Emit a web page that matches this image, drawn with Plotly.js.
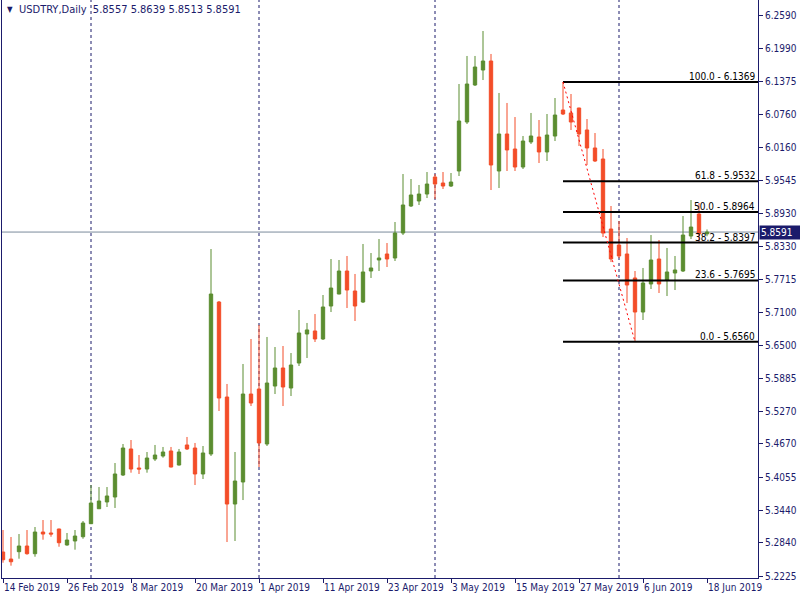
<!DOCTYPE html>
<html>
<head>
<meta charset="utf-8">
<script src="https://cdn.plot.ly/plotly-3.0.1.min.js"></script>
<style>
html,body{margin:0;padding:0;background:#fff;}
#chart{width:800px;height:600px;}
</style>
</head>
<body>
<div id="chart"></div>
<script>
// ---- data ----
const dates = [
"14 Feb 2019","15 Feb 2019","18 Feb 2019","19 Feb 2019","20 Feb 2019","21 Feb 2019","22 Feb 2019","25 Feb 2019","26 Feb 2019","27 Feb 2019","28 Feb 2019",
"1 Mar 2019","4 Mar 2019","5 Mar 2019","6 Mar 2019","7 Mar 2019","8 Mar 2019","11 Mar 2019","12 Mar 2019","13 Mar 2019","14 Mar 2019","15 Mar 2019","18 Mar 2019","19 Mar 2019","20 Mar 2019","21 Mar 2019","22 Mar 2019","25 Mar 2019","26 Mar 2019","27 Mar 2019","28 Mar 2019","29 Mar 2019",
"1 Apr 2019","2 Apr 2019","3 Apr 2019","4 Apr 2019","5 Apr 2019","8 Apr 2019","9 Apr 2019","10 Apr 2019","11 Apr 2019","12 Apr 2019","15 Apr 2019","16 Apr 2019","17 Apr 2019","18 Apr 2019","19 Apr 2019","22 Apr 2019","23 Apr 2019","24 Apr 2019","25 Apr 2019","26 Apr 2019","29 Apr 2019","30 Apr 2019",
"1 May 2019","2 May 2019","3 May 2019","6 May 2019","7 May 2019","8 May 2019","9 May 2019","10 May 2019","13 May 2019","14 May 2019","15 May 2019","16 May 2019","17 May 2019","20 May 2019","21 May 2019","22 May 2019","23 May 2019","24 May 2019","27 May 2019","28 May 2019","29 May 2019","30 May 2019","31 May 2019",
"3 Jun 2019","4 Jun 2019","5 Jun 2019","6 Jun 2019","7 Jun 2019","10 Jun 2019","11 Jun 2019","12 Jun 2019","13 Jun 2019","14 Jun 2019","17 Jun 2019","18 Jun 2019"
];
const opens = [
5.2669,5.2539,5.2675,5.2780,5.2638,5.3039,5.3021,5.3095,5.2799,5.2873,5.2952,
5.3193,5.3470,5.3595,5.3687,5.4094,5.4576,5.4224,5.4205,5.4390,5.4446,5.4539,5.4279,5.4650,5.4594,5.4113,5.4483,5.7296,5.5538,5.3557,5.3965,5.5593,
5.5686,5.4668,5.5741,5.6075,5.5704,5.6167,5.6704,5.6760,5.6612,5.7222,5.7444,5.7870,5.7500,5.7296,5.7870,5.8074,5.8185,5.8111,5.8573,5.9073,5.9166,5.9295,
5.9610,5.9499,5.9443,5.9721,6.0628,6.1313,6.1590,6.1757,5.9721,6.0406,6.0128,5.9795,6.0258,6.0350,6.0073,6.0368,6.0850,6.0795,6.0887,6.0480,6.0147,5.9943,5.8647,
5.8351,5.8185,5.7741,5.7111,5.7630,5.8092,5.7704,5.7833,5.7870,5.8518,5.8925,5.8557
];
const highs = [
5.3076,5.2947,5.3002,5.3076,5.3132,5.3261,5.3261,5.3100,5.3021,5.3076,5.3243,
5.3909,5.3872,5.3872,5.4316,5.4668,5.4742,5.4464,5.4520,5.4650,5.4613,5.4613,5.4576,5.4798,5.4687,5.4631,5.8277,5.7315,5.5779,5.4520,5.6149,5.6611,
5.6871,5.6649,5.6463,5.6482,5.6352,5.7148,5.6908,5.7074,5.7426,5.8092,5.8074,5.8148,5.7815,5.8370,5.8203,5.8462,5.8388,5.8777,5.9665,5.9573,5.9462,5.9702,
5.9665,5.9702,5.9684,6.1331,6.1850,6.1850,6.2312,6.1887,6.1165,6.0980,6.0720,6.0369,6.0795,6.0665,6.0776,6.1072,6.1369,6.1146,6.0890,6.0683,6.0424,6.0128,5.9073,
5.8795,5.8481,5.7870,5.7926,5.8536,5.8444,5.8296,5.8148,5.8888,5.9184,5.9129,5.8639
];
const lows = [
5.2471,5.2416,5.2545,5.2619,5.2582,5.2897,5.2952,5.2767,5.2786,5.2712,5.2915,
5.3187,5.3465,5.3502,5.3484,5.4076,5.4137,5.4113,5.4137,5.4353,5.4415,5.4235,5.4270,5.4557,5.3909,5.4020,5.4446,5.5279,5.2854,5.2873,5.3631,5.5371,
5.4242,5.4631,5.5593,5.5371,5.5556,5.6112,5.6260,5.6556,5.6593,5.7111,5.7440,5.7185,5.6945,5.7278,5.7741,5.7870,5.7944,5.8055,5.8536,5.9055,5.9092,5.9221,
5.9203,5.9388,5.9425,5.9628,6.0591,6.1294,6.1405,5.9369,5.9406,5.9721,5.9721,5.9758,6.0221,5.9869,5.9906,6.0276,6.0757,6.0480,6.0184,5.9832,5.9888,5.8499,5.8036,
5.8111,5.7278,5.6560,5.6963,5.7537,5.7463,5.7407,5.7518,5.7852,5.8462,5.8388,5.8513
];
const closes = [
5.2526,5.2489,5.2780,5.2638,5.3039,5.3002,5.3002,5.2841,5.2891,5.2965,5.3206,
5.3576,5.3613,5.3706,5.4113,5.4594,5.4205,5.4205,5.4409,5.4464,5.4520,5.4242,5.4520,5.4576,5.4113,5.4502,5.7444,5.5519,5.3557,5.3983,5.5593,5.5427,
5.4687,5.5797,5.6075,5.5723,5.6130,5.6723,5.6779,5.6612,5.7204,5.7555,5.7870,5.7518,5.7222,5.7852,5.7926,5.8111,5.8092,5.8573,5.9092,5.9277,5.9295,5.9480,
5.9480,5.9443,5.9517,6.0646,6.1331,6.1646,6.1757,5.9832,6.0406,6.0110,5.9795,6.0276,6.0369,6.0073,6.0387,6.0757,6.0776,6.0628,6.0406,6.0147,5.9906,5.8573,5.8092,
5.8148,5.7611,5.7111,5.7648,5.8074,5.7630,5.7852,5.7889,5.8536,5.8684,5.8557,5.8591
];
const xTickDates = ["14 Feb 2019","26 Feb 2019","8 Mar 2019","20 Mar 2019","1 Apr 2019","11 Apr 2019","23 Apr 2019","3 May 2019","15 May 2019","27 May 2019","6 Jun 2019","18 Jun 2019"];
const yTickLabels = ["6.2590","6.1990","6.1375","6.0760","6.0160","5.9545","5.8930","5.8330","5.7715","5.7100","5.6500","5.5885","5.5270","5.4670","5.4055","5.3440","5.2840","5.2225"];
const separatorDates = ["1 Mar 2019","1 Apr 2019","1 May 2019","3 Jun 2019"];
const fibLevels = [100.0, 61.8, 50.0, 38.2, 23.6, 0.0];
const fibPrices = ["6.1369","5.9532","5.8964","5.8397","5.7695","5.6560"];
const fibStartDate = "23 May 2019";
const fibEndDate = "5 Jun 2019";
const symbolTitle = "USDTRY,Daily";

// ---- styling ----
const NAVY = "#1b1b6b";
const GREEN = "#5b8d30";
const RED = "#f34d28";
const FONT = "DejaVu Sans Condensed, DejaVu Sans, sans-serif";
const XMIN = -0.125, XMAX = 94.375;

const n = closes.length;
const lastO = opens[n-1], lastH = highs[n-1], lastL = lows[n-1], lastC = closes[n-1];

const trace = {
  type: "candlestick",
  x: dates, open: opens, high: highs, low: lows, close: closes,
  increasing: {line: {color: GREEN, width: 1}, fillcolor: GREEN},
  decreasing: {line: {color: RED, width: 1}, fillcolor: RED},
  whiskerwidth: 0,
  hoverinfo: "skip",
  showlegend: false
};

const shapes = [];
separatorDates.forEach(d => shapes.push({
  type: "line", xref: "x", yref: "paper", x0: d, x1: d, y0: 0, y1: 1,
  line: {color: NAVY, width: 1, dash: "3px,3px"}, layer: "below"
}));
shapes.push({
  type: "line", xref: "paper", yref: "y", x0: 0, x1: 1, y0: lastC, y1: lastC,
  line: {color: "#7a8a9c", width: 1}, layer: "below"
});
fibPrices.forEach(p => shapes.push({
  type: "line", xref: "x", yref: "y", x0: fibStartDate, x1: XMAX, y0: +p, y1: +p,
  line: {color: "#000000", width: 2}, layer: "above"
}));
shapes.push({
  type: "line", xref: "x", yref: "y",
  x0: fibStartDate, y0: +fibPrices[0], x1: fibEndDate, y1: +fibPrices[fibPrices.length-1],
  line: {color: "#ff0000", width: 1, dash: "2px,3px"}, layer: "above"
});

const annotations = [];
fibLevels.forEach((lv, i) => annotations.push({
  xref: "paper", yref: "y", x: 1, y: +fibPrices[i], xanchor: "right", yanchor: "bottom",
  xshift: -1, yshift: -2,
  text: lv.toFixed(1) + " - " + fibPrices[i], showarrow: false,
  font: {family: FONT, size: 10, color: "#000000"}
}));
annotations.push({
  xref: "paper", yref: "y", x: 1, y: lastC, xanchor: "left", yanchor: "middle", xshift: 1,
  text: lastC.toFixed(4), showarrow: false, bgcolor: NAVY, borderpad: 1,
  font: {family: FONT, size: 10, color: "#ffffff"}, width: 38, align: "left"
});
annotations.push({
  xref: "paper", yref: "paper", x: 0, y: 1, xanchor: "left", yanchor: "top", xshift: 3, yshift: -3,
  text: "▼", showarrow: false, font: {family: FONT, size: 8, color: NAVY}
});
annotations.push({
  xref: "paper", yref: "paper", x: 0, y: 1, xanchor: "left", yanchor: "top", xshift: 15, yshift: -1,
  text: symbolTitle + "  " + [lastO, lastH, lastL, lastC].map(v => v.toFixed(4)).join(" "),
  showarrow: false, font: {family: FONT, size: 11, color: NAVY}
});

const layout = {
  width: 800, height: 600,
  margin: {l: 2, r: 42, t: 0, b: 22},
  paper_bgcolor: "#ffffff", plot_bgcolor: "#ffffff",
  showlegend: false,
  boxgap: 0.4,
  xaxis: {
    type: "category", range: [XMIN, XMAX],
    tickvals: xTickDates, ticktext: xTickDates,
    ticks: "outside", ticklen: 4, tickcolor: NAVY, tickwidth: 1,
    showline: true, linecolor: NAVY, linewidth: 1,
    showgrid: false, zeroline: false,
    tickangle: 0, automargin: false,
    ticklabelposition: "outside right",
    tickfont: {family: FONT, size: 10, color: NAVY},
    rangeslider: {visible: false}, fixedrange: true
  },
  yaxis: {
    side: "right", range: [5.2188, 6.2886],
    tickvals: yTickLabels.map(Number), ticktext: yTickLabels,
    ticks: "outside", ticklen: 4, tickcolor: NAVY, tickwidth: 1,
    showline: true, mirror: true, linecolor: NAVY, linewidth: 1,
    showgrid: false, zeroline: false, automargin: false,
    tickfont: {family: FONT, size: 10, color: NAVY}, fixedrange: true
  },
  shapes: shapes,
  annotations: annotations
};

Plotly.newPlot("chart", [trace], layout, {displayModeBar: false, staticPlot: true});
</script>
</body>
</html>
